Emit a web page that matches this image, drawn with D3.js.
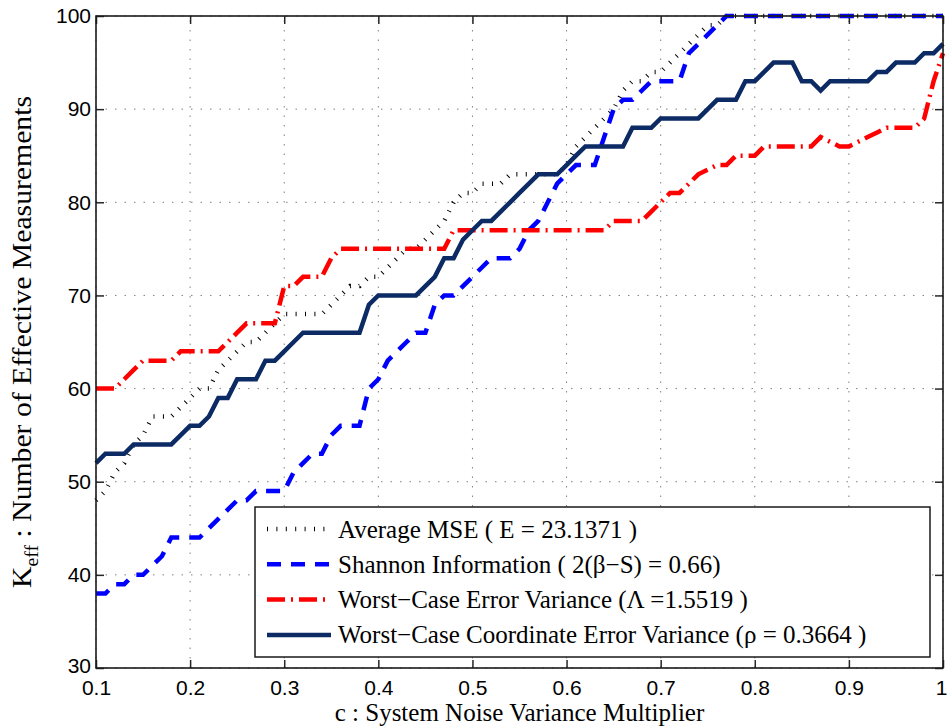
<!DOCTYPE html>
<html>
<head>
<meta charset="utf-8">
<script src="https://cdn.jsdelivr.net/npm/d3@7"></script>
<style>
    html, body { margin: 0; padding: 0; background: #fff; }
    .serif { font-family: "Liberation Serif", "Times New Roman", serif; }
    .tick text { font-family: "Liberation Sans", Arial, sans-serif; font-size: 21px; fill: #000; }
</style>
</head>
<body>
<div id="chart"></div>
<script>
/* values, one per c step */
let cValues = [0.10, 0.11, 0.12, 0.13, 0.14, 0.15, 0.16, 0.17, 0.18, 0.19,
    0.20, 0.21, 0.22, 0.23, 0.24, 0.25, 0.26, 0.27, 0.28, 0.29,
    0.30, 0.31, 0.32, 0.33, 0.34, 0.35, 0.36, 0.37, 0.38, 0.39,
    0.40, 0.41, 0.42, 0.43, 0.44, 0.45, 0.46, 0.47, 0.48, 0.49,
    0.50, 0.51, 0.52, 0.53, 0.54, 0.55, 0.56, 0.57, 0.58, 0.59,
    0.60, 0.61, 0.62, 0.63, 0.64, 0.65, 0.66, 0.67, 0.68, 0.69,
    0.70, 0.71, 0.72, 0.73, 0.74, 0.75, 0.76, 0.77, 0.78, 0.79,
    0.80, 0.81, 0.82, 0.83, 0.84, 0.85, 0.86, 0.87, 0.88, 0.89,
    0.90, 0.91, 0.92, 0.93, 0.94, 0.95, 0.96, 0.97, 0.98, 0.99, 1.00];

let avgMSE = [48, 49, 51, 52, 54, 55, 57, 57, 57, 58,
    59, 60, 60, 62, 63, 64, 65, 65, 66, 67,
    68, 68, 68, 68, 68, 69, 70, 71, 71, 72,
    72, 73, 74, 75, 75, 76, 77, 78, 80, 81,
    81, 82, 82, 82, 83, 83, 83, 83, 83, 83,
    84, 86, 87, 88, 89, 90, 92, 93, 93, 94,
    94, 95, 96, 97, 98, 99, 99, 100, 100, 100,
    100, 100, 100, 100, 100, 100, 100, 100, 100, 100,
    100, 100, 100, 100, 100, 100, 100, 100, 100, 100, 100];

let shannonInfo = [38, 38, 39, 39, 40, 40, 41, 42, 44, 44,
    44, 44, 45, 46, 47, 48, 48, 49, 49, 49,
    49, 51, 52, 53, 53, 55, 56, 56, 56, 60,
    61, 63, 64, 65, 66, 66, 69, 70, 70, 71,
    72, 73, 74, 74, 74, 75, 77, 78, 80, 82,
    83, 84, 84, 84, 87, 90, 91, 91, 92, 93,
    93, 93, 93, 96, 97, 98, 99, 100, 100, 100,
    100, 100, 100, 100, 100, 100, 100, 100, 100, 100,
    100, 100, 100, 100, 100, 100, 100, 100, 100, 100, 100];

let worstErrVar = [60, 60, 60, 61, 62, 63, 63, 63, 63, 64,
    64, 64, 64, 64, 65, 66, 67, 67, 67, 67,
    71, 71, 72, 72, 72, 74, 75, 75, 75, 75,
    75, 75, 75, 75, 75, 75, 75, 75, 77, 77,
    77, 77, 77, 77, 77, 77, 77, 77, 77, 77,
    77, 77, 77, 77, 77, 78, 78, 78, 78, 79,
    80, 81, 81, 82, 83, 83.5, 84, 84, 85, 85,
    85, 86, 86, 86, 86, 86, 86, 87, 86.5, 86,
    86, 86.5, 87, 87.5, 88, 88, 88, 88, 89, 93, 96];

let worstCoordVar = [52, 53, 53, 53, 54, 54, 54, 54, 54, 55,
    56, 56, 57, 59, 59, 61, 61, 61, 63, 63,
    64, 65, 66, 66, 66, 66, 66, 66, 66, 69,
    70, 70, 70, 70, 70, 71, 72, 74, 74, 76,
    77, 78, 78, 79, 80, 81, 82, 83, 83, 83,
    84, 85, 86, 86, 86, 86, 86, 88, 88, 88,
    89, 89, 89, 89, 89, 90, 91, 91, 91, 93,
    93, 94, 95, 95, 95, 93, 93, 92, 93, 93,
    93, 93, 93, 94, 94, 95, 95, 95, 96, 96, 97];

let xTicks = [0.1, 0.2, 0.3, 0.4, 0.5, 0.6, 0.7, 0.8, 0.9, 1];
let xTickLabels = ["0.1", "0.2", "0.3", "0.4", "0.5", "0.6", "0.7", "0.8", "0.9", "1"];
let yTicks = [30, 40, 50, 60, 70, 80, 90, 100];

let seriesNames = [
    "Average MSE ( E = 23.1371 )",
    "Shannon Information ( 2(\u03B2\u2212S) = 0.66)",
    "Worst\u2212Case Error Variance (\u039B =1.5519 )",
    "Worst\u2212Case Coordinate Error Variance (\u03C1 = 0.3664 )"
];

let series = [
    { name: seriesNames[0], values: avgMSE, color: "#000000", width: 4.5, dash: "1,8.4" },
    { name: seriesNames[1], values: shannonInfo, color: "#0000ff", width: 4.5, dash: "14,10" },
    { name: seriesNames[2], values: worstErrVar, color: "#ff0000", width: 4.5, dash: "18,6,2,6" },
    { name: seriesNames[3], values: worstCoordVar, color: "#0c2a64", width: 4.5, dash: null }
];

let width = 947;
let height = 727;
let margin = { top: 16, right: 4, bottom: 59, left: 96 };
let tickLen = 8;

let svg = d3.select("#chart").append("svg")
    .attr("width", width)
    .attr("height", height)
    .style("background", "#fff");

let xScale = d3.scaleLinear().domain([0.1, 1]).range([margin.left, width - margin.right]);
let yScale = d3.scaleLinear().domain([30, 100]).range([height - margin.bottom, margin.top]);

/* dotted grid */
let grid = svg.append("g").attr("class", "grid");

grid.selectAll(".gx")
    .data(xTicks).enter()
    .append("line")
    .attr("x1", d => xScale(d)).attr("x2", d => xScale(d))
    .attr("y1", yScale(30)).attr("y2", yScale(100));

grid.selectAll(".gy")
    .data(yTicks).enter()
    .append("line")
    .attr("x1", xScale(0.1)).attr("x2", xScale(1))
    .attr("y1", d => yScale(d)).attr("y2", d => yScale(d));

grid.selectAll("line")
    .attr("stroke", "#808080")
    .attr("stroke-width", 1)
    .attr("stroke-dasharray", "1.5,8");

/* axes with inward ticks on all four sides */
let xAxis = d3.axisBottom(xScale)
    .tickValues(xTicks)
    .tickFormat((d, i) => xTickLabels[i])
    .tickSizeInner(-tickLen)
    .tickSizeOuter(0)
    .tickPadding(12);

let yAxis = d3.axisLeft(yScale)
    .tickValues(yTicks)
    .tickFormat(d => d)
    .tickSizeInner(-tickLen)
    .tickSizeOuter(0)
    .tickPadding(5);

let gx = svg.append("g")
    .attr("transform", `translate(0, ${yScale(30)})`)
    .call(xAxis);

// last label sits on the window edge, keep it inside
gx.selectAll(".tick text")
    .filter(d => d === 1)
    .attr("text-anchor", "end")
    .attr("dx", 4);

let gy = svg.append("g")
    .attr("transform", `translate(${xScale(0.1)}, 0)`)
    .call(yAxis);

// bottom label of y axis shifted up a touch so it clears "0.1"
gy.selectAll(".tick text")
    .filter(d => d === 30)
    .attr("dy", "0.2em");

let gxTop = svg.append("g")
    .attr("transform", `translate(0, ${yScale(100)})`)
    .call(d3.axisTop(xScale).tickValues(xTicks).tickSizeInner(-tickLen).tickSizeOuter(0).tickFormat(""));

let gyRight = svg.append("g")
    .attr("transform", `translate(${xScale(1)}, 0)`)
    .call(d3.axisRight(yScale).tickValues(yTicks).tickSizeInner(-tickLen).tickSizeOuter(0).tickFormat(""));

[gx, gy, gxTop, gyRight].forEach(g => {
    g.select(".domain").remove();
    g.selectAll(".tick line").attr("stroke", "#262626").attr("stroke-width", 1.5);
});

/* data lines */
let line = d3.line()
    .x((d, i) => xScale(cValues[i]))
    .y(d => yScale(d));

svg.append("g")
    .attr("class", "lines")
    .selectAll("path")
    .data(series).enter()
    .append("path")
    .attr("d", d => line(d.values))
    .attr("fill", "none")
    .attr("stroke", d => d.color)
    .attr("stroke-width", d => d.width)
    .attr("stroke-dasharray", d => d.dash);

/* axes box */
svg.append("rect")
    .attr("x", xScale(0.1))
    .attr("y", yScale(100))
    .attr("width", xScale(1) - xScale(0.1))
    .attr("height", yScale(30) - yScale(100))
    .attr("fill", "none")
    .attr("stroke", "#1a1a1a")
    .attr("stroke-width", 1.6);

/* axis titles */
svg.append("text")
    .attr("class", "serif")
    .attr("x", (xScale(0.1) + xScale(1)) / 2)
    .attr("y", 721)
    .attr("text-anchor", "middle")
    .attr("font-size", 25)
    .text("c : System Noise Variance Multiplier");

let yTitle = svg.append("text")
    .attr("class", "serif")
    .attr("transform", `translate(31, ${(yScale(30) + yScale(100)) / 2}) rotate(-90)`)
    .attr("text-anchor", "middle")
    .attr("font-size", 27)
    .attr("textLength", 492)
    .attr("lengthAdjust", "spacingAndGlyphs");

yTitle.append("tspan").text("K");
yTitle.append("tspan").attr("font-size", 18).attr("dy", 7).text("eff");
yTitle.append("tspan").attr("dy", -7).text(" : Number of Effective Measurements");

/* legend */
let legend = svg.append("g").attr("class", "legend");

legend.append("rect")
    .attr("x", 255)
    .attr("y", 507)
    .attr("width", 675)
    .attr("height", 150)
    .attr("fill", "#fff")
    .attr("stroke", "#1a1a1a")
    .attr("stroke-width", 1.5);

let rows = legend.selectAll(".row")
    .data(series).enter()
    .append("g")
    .attr("class", "row")
    .attr("transform", (d, i) => `translate(0, ${529 + i * 35.3})`);

rows.append("line")
    .attr("x1", 267).attr("x2", 331)
    .attr("y1", 0).attr("y2", 0)
    .attr("stroke", d => d.color)
    .attr("stroke-width", d => d.width)
    .attr("stroke-dasharray", d => d.dash);

rows.append("text")
    .attr("class", "serif")
    .attr("x", 338)
    .attr("y", 8.5)
    .attr("font-size", 25)
    .text(d => d.name);
</script>
</body>
</html>
